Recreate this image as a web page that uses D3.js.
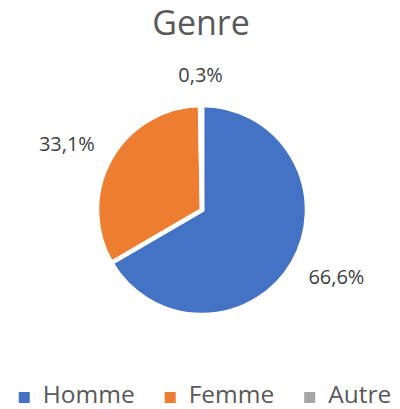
<!DOCTYPE html>
<html>
<head>
<meta charset="utf-8">
<script src="https://cdn.jsdelivr.net/npm/d3@7"></script>
<style>
  body { margin: 0; background: #fff; }
  svg { display: block; font-family: "Open Sans", sans-serif; }
</style>
</head>
<body>
<svg id="chart" width="400" height="409"></svg>
<script>
const categories = ["Homme", "Femme", "Autre"];
const values = [66.6, 33.1, 0.3];
const labels = ["66,6%", "33,1%", "0,3%"];
const colors = ["#4472C4", "#ED7D31", "#A5A5A5"];

const svg = d3.select("#chart");
const width = 400;
const cx = 202, cy = 210, radius = 105;

svg.append("text")
    .attr("x", 201)
    .attr("y", 35)
    .attr("text-anchor", "middle")
    .attr("font-size", 34)
    .attr("fill", "#595959")
    .text("Genre");

const color = d3.scaleOrdinal().domain(categories).range(colors);

const pie = d3.pie().sort(null).value(d => d.value);
const arcs = pie(categories.map((c, i) => ({ name: c, value: values[i], label: labels[i] })));
const arc = d3.arc().innerRadius(0).outerRadius(radius);

const g = svg.append("g").attr("transform", `translate(${cx},${cy})`);

g.selectAll("path")
    .data(arcs)
    .enter()
    .append("path")
    .attr("d", arc)
    .attr("fill", d => color(d.data.name))
    .attr("stroke", "#fff")
    .attr("stroke-width", 4.5)
    .attr("stroke-linejoin", "miter");

// outside-end labels: push the text box out along the slice's middle direction
const gap = 22;
g.selectAll("text.lbl")
    .data(arcs)
    .enter()
    .append("text")
    .attr("class", "lbl")
    .attr("font-size", 20)
    .attr("fill", "#404040")
    .attr("text-anchor", "middle")
    .text(d => d.data.label)
    .each(function(d) {
        const a = (d.startAngle + d.endAngle) / 2;
        const dx = Math.sin(a), dy = -Math.cos(a);
        const w = this.getComputedTextLength();
        const h = 16;
        const x = dx * (radius + gap) + dx * w / 2;
        const y = dy * (radius + gap) + dy * h / 2;
        d3.select(this).attr("x", x).attr("y", y + 7);
    });

// legend
const legend = svg.append("g");
let lx = 0;
categories.forEach((c, i) => {
    const item = legend.append("g").attr("transform", `translate(${lx},0)`);
    item.append("rect")
        .attr("x", 0)
        .attr("y", -11)
        .attr("width", 11)
        .attr("height", 11)
        .attr("fill", color(c));
    const t = item.append("text")
        .attr("x", 24)
        .attr("y", 0)
        .attr("font-size", 24.5)
        .attr("fill", "#595959")
        .text(c);
    lx += 24 + t.node().getComputedTextLength() + 30;
});
const legendWidth = lx - 30;
legend.attr("transform", `translate(${(width - legendWidth) / 2 + 5},403)`);
</script>
</body>
</html>
